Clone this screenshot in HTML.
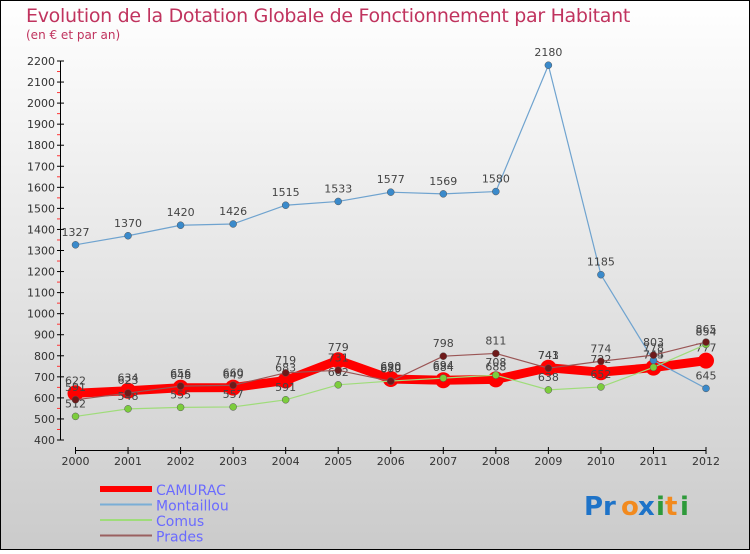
<!DOCTYPE html>
<html><head><meta charset="utf-8"><style>
html,body{margin:0;padding:0}
body{width:750px;height:550px;overflow:hidden;font-family:"DejaVu Sans","Liberation Sans",sans-serif}
</style></head><body>
<svg width="750" height="550" xmlns="http://www.w3.org/2000/svg" style="font-family:'DejaVu Sans','Liberation Sans',sans-serif">
<defs><linearGradient id="bg" x1="0" y1="0" x2="0" y2="1"><stop offset="0" stop-color="#ffffff"/><stop offset="1" stop-color="#cbcbcb"/></linearGradient></defs>
<rect x="0.5" y="0.5" width="749" height="549" fill="url(#bg)" stroke="#000"/>
<text x="26" y="22" font-size="19" fill="#c0335e" style="letter-spacing:-0.3px">Evolution de la Dotation Globale de Fonctionnement par Habitant</text>
<text x="26" y="39" font-size="12" fill="#c0335e">(en € et par an)</text>
<g id="axes"></g>
<g id="series"></g>
<g id="legend"></g>
<g font-size="26" font-weight="bold" font-family="'DejaVu Sans',sans-serif">
<text x="584" y="515" fill="#1e73c8">Pr</text><text x="621" y="515" fill="#f28a1e">o</text><text x="638" y="515" fill="#1e73c8">x</text><text x="656" y="515" fill="#2e9a3a">i</text><text x="665" y="515" fill="#f28a1e">t</text><text x="680" y="515" fill="#2e9a3a">i</text>
</g>
</svg>
<script>
const years=[2000,2001,2002,2003,2004,2005,2006,2007,2008,2009,2010,2011,2012];
const yTicks=[400,500,600,700,800,900,1000,1100,1200,1300,1400,1500,1600,1700,1800,1900,2000,2100,2200];
const camurac=[622,634,648,649,683,779,690,684,688,743,722,744,777];
const montaillou=[1327,1370,1420,1426,1515,1533,1577,1569,1580,2180,1185,778,645];
const comus=[512,548,555,557,591,662,680,694,708,638,652,745,854];
const prades=[591,623,656,660,719,731,679,798,811,741,774,803,865];
const NS='http://www.w3.org/2000/svg';
const xs=i=>75.5+i*(706-75.5)/12;
const ys=v=>440-(v-400)*379/1800;
function mk(tag,attrs,parent){const e=document.createElementNS(NS,tag);for(const k in attrs)e.setAttribute(k,attrs[k]);parent.appendChild(e);return e;}
const axes=document.getElementById('axes');
const yax=mk('line',{x1:60.5,y1:ys(2200),x2:60.5,y2:ys(400),stroke:'#000'},axes);


yTicks.forEach((t,i)=>{
 mk('line',{x1:57,x2:64,y1:ys(t),y2:ys(t),stroke:'#000'},axes);
 if(i<yTicks.length-1)mk('line',{x1:57,x2:60,y1:ys(t+50),y2:ys(t+50),stroke:'#f33'},axes);
 const tx=mk('text',{x:55,y:ys(t)+4,'font-size':11,fill:'#333','text-anchor':'end'},axes);
 
 
 tx.textContent=t;
});
const xax=mk('line',{x1:75.5,x2:706,y1:450.5,y2:450.5,stroke:'#000'},axes);


years.forEach((y,i)=>{
 mk('line',{x1:xs(i),x2:xs(i),y1:447,y2:454,stroke:'#000'},axes);
 const tx=mk('text',{x:xs(i),y:465,'font-size':11,fill:'#333','text-anchor':'middle'},axes);
 
 
 tx.textContent=y;
});
const ser=document.getElementById('series');
const defs=[
 {name:'montaillou',data:montaillou,color:'#6fa3cf',dot:'#3a8acb',w:1.2,r:3.5},
 {name:'comus',data:comus,color:'#9fdc7a',dot:'#7ccd3c',w:1.2,r:3.5},
 {name:'prades',data:prades,color:'#9a5555',dot:'#6e1a1a',w:1.2,r:3.5},
 {name:'camurac',data:camurac,color:'#f00',dot:'#f00',w:9,r:8}
];
const order=[defs[3],defs[0],defs[1],defs[2]];
order.forEach(s=>{
 const g=mk('g',{},ser);
 
 
 const p=mk('polyline',{points:s.data.map((v,i)=>xs(i)+','+ys(v)).join(' '),fill:'none',stroke:s.color,'stroke-width':s.w,'stroke-linejoin':'round'},g);
 
 
 s.data.forEach((v,i)=>{
  const c=mk('circle',{cx:xs(i),cy:ys(v),r:s.r,fill:s.dot,stroke:s.name==='camurac'?'none':'#555','stroke-width':0.5},g);
  
  
  const t=mk('text',{x:xs(i),y:ys(v)-9,'font-size':11,fill:'#444','text-anchor':'middle'},g);
  
  
  t.textContent=v;
 });
});
const leg=document.getElementById('legend');
const items=[['CAMURAC','#f00',6],['Montaillou','#7aaed6',2],['Comus','#9fdc7a',2],['Prades','#9a6060',2]];
items.forEach((it,i)=>{
 const y=489+i*15.5;
 const l=mk('line',{x1:100,x2:152,y1:y,y2:y,stroke:it[1],'stroke-width':it[2]},leg);
 
 
 const t=mk('text',{x:156,y:y+6,'font-size':14,fill:'#6a6aff'},leg);
 
 
 t.textContent=it[0];
});
</script>
</body></html>
